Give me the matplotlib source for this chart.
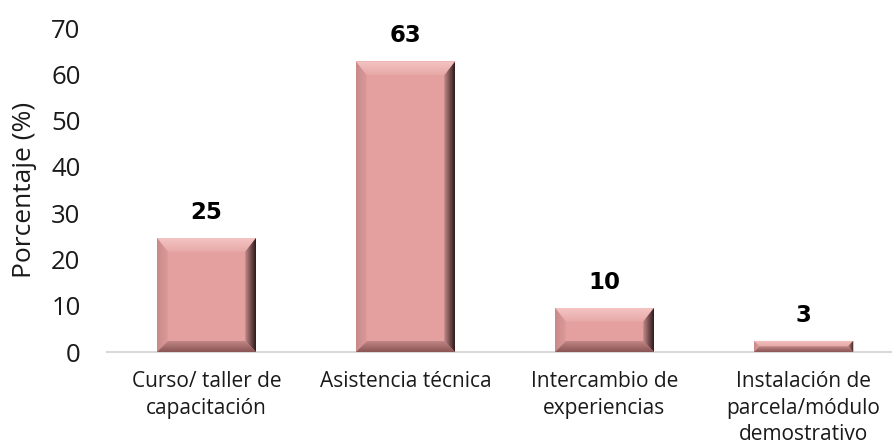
import numpy as np
import matplotlib
matplotlib.use("Agg")
import matplotlib.pyplot as plt
from matplotlib.patches import Polygon
from matplotlib.transforms import IdentityTransform
from matplotlib.colors import LinearSegmentedColormap

categories = ["Curso/ taller de\ncapacitación", "Asistencia técnica",
              "Intercambio de\nexperiencias", "Instalación de\nparcela/módulo\ndemostrativo"]
values = [24.7, 62.8, 9.6, 2.4]
labels = ["25", "63", "10", "3"]
yticks = [0, 10, 20, 30, 40, 50, 60, 70]

DPI = 100
fig = plt.figure(figsize=(8.92, 4.45), dpi=DPI)
ax = fig.add_axes([107/892, 93/445, 796/892, 324/445])

x = np.arange(len(categories))
face = "#E3A09F"
bars = ax.bar(x, values, width=0.5, color=face, zorder=2, linewidth=0)
ax.set_xlim(-0.5, len(categories) - 0.5)
ax.set_ylim(0, 70)
ax.set_yticks(yticks)
ax.set_xticks(x)
ax.set_xticklabels(categories, fontsize=15, family="Open Sans", linespacing=1.33)
for lab in ax.get_yticklabels():
    lab.set_fontsize(18.5)
    lab.set_family("Open Sans")
ax.tick_params(axis="y", length=0, pad=19, colors="#1a1a1a")
ax.tick_params(axis="x", length=0, pad=14, colors="#1a1a1a")
for s in ["top", "right", "left"]:
    ax.spines[s].set_visible(False)
ax.spines["bottom"].set_color("#D9D9D9")
ax.spines["bottom"].set_linewidth(1.5)
ax.spines["bottom"].set_zorder(1)
ax.set_ylabel("Porcentaje (%)", fontsize=19, family="Open Sans", color="#1a1a1a")
ax.yaxis.set_label_coords((37 - 107) / 796, 0.5)

fig.canvas.draw()
inv = IdentityTransform()

def grad_fill(poly_pts, c0, c1, horizontal, x0, x1, y0, y1):
    cmap = LinearSegmentedColormap.from_list("g", [c0, c1])
    g = np.linspace(0, 1, 64)
    img = g[None, :] if horizontal else g[:, None]
    poly = Polygon(poly_pts, closed=True, transform=inv, facecolor="none", edgecolor="none")
    fig.add_artist(poly)
    im = ax.imshow(img, cmap=cmap, aspect="auto", origin="lower",
                   extent=[x0, x1, y0, y1], transform=inv, zorder=3, interpolation="bilinear")
    im.set_clip_path(poly)

for rect in bars:
    (dx0, dy0) = ax.transData.transform((rect.get_x(), rect.get_y()))
    (dx1, dy1) = ax.transData.transform((rect.get_x() + rect.get_width(), rect.get_y() + rect.get_height()))
    h = dy1 - dy0
    b = min(11, h / 2.0)
    bt = min(14, h / 2.0)
    top = [(dx0, dy1), (dx1, dy1), (dx1 - b, dy1 - bt), (dx0 + b, dy1 - bt)]
    grad_fill(top, "#E7A9A8", "#F3C4C3", False, dx0, dx1, dy1 - bt, dy1)
    bot = [(dx0, dy0), (dx1, dy0), (dx1 - b, dy0 + b), (dx0 + b, dy0 + b)]
    grad_fill(bot, "#8A5555", "#C08584", False, dx0, dx1, dy0, dy0 + b)
    left = [(dx0, dy0), (dx0 + b, dy0 + b), (dx0 + b, dy1 - bt), (dx0, dy1)]
    grad_fill(left, "#C88A89", "#DC9A99", True, dx0, dx0 + b, dy0, dy1)
    right = [(dx1, dy0), (dx1 - b, dy0 + b), (dx1 - b, dy1 - bt), (dx1, dy1)]
    grad_fill(right, "#C48A8A", "#2E1A1A", True, dx1 - b, dx1, dy0, dy1)

for xi, v, lab in zip(x, values, labels):
    ax.annotate(lab, (xi, v), xytext=(0, 10), textcoords="offset points",
                ha="center", va="bottom", fontsize=16.5, fontweight="bold",
                family="DejaVu Sans", color="black")

fig.savefig("out.png", dpi=DPI)
